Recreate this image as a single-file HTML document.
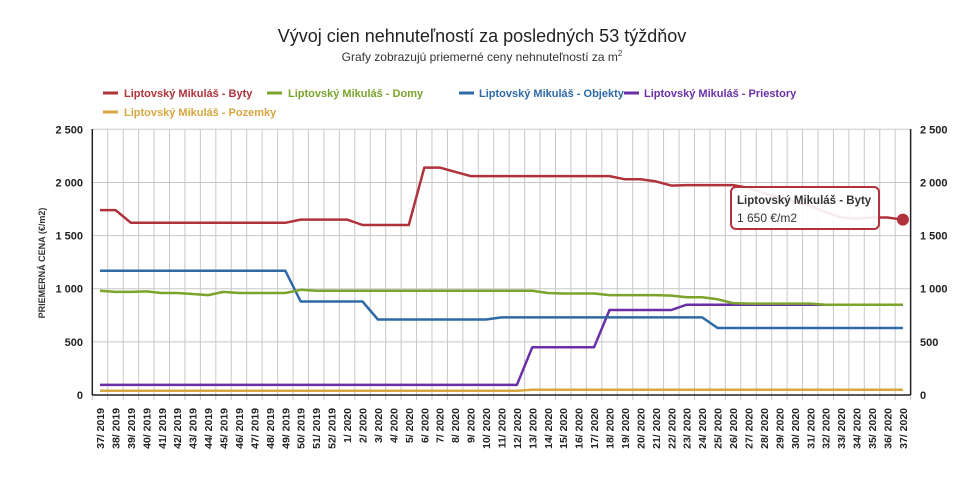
<!DOCTYPE html>
<html><head><meta charset="utf-8"><style>
body{margin:0;background:#fff;width:964px;height:487px;overflow:hidden;font-family:"Liberation Sans",Arial,sans-serif}
</style></head><body>
<svg id="s" width="964" height="487" xmlns="http://www.w3.org/2000/svg" font-family="Liberation Sans, Arial, sans-serif">
<text x="482" y="42" text-anchor="middle" font-size="18" fill="#222">Vývoj cien nehnuteľností za posledných 53 týždňov</text>
<text x="482" y="61" text-anchor="middle" font-size="12" fill="#333">Grafy zobrazujú priemerné ceny nehnuteľností za m<tspan font-size="8" dy="-5">2</tspan></text>
<g font-size="11" font-weight="bold">
<line x1="103" y1="93" x2="118" y2="93" stroke="#b0323a" stroke-width="3"/><text x="124" y="97" fill="#b0323a">Liptovský Mikuláš - Byty</text>
<line x1="267" y1="93" x2="282" y2="93" stroke="#7aa42c" stroke-width="3"/><text x="288" y="97" fill="#7aa42c">Liptovský Mikuláš - Domy</text>
<line x1="459" y1="93" x2="474" y2="93" stroke="#2e6aa6" stroke-width="3"/><text x="479" y="97" fill="#2e6aa6">Liptovský Mikuláš - Objekty</text>
<line x1="624" y1="93" x2="639" y2="93" stroke="#6a2fa6" stroke-width="3"/><text x="644" y="97" fill="#6a2fa6">Liptovský Mikuláš - Priestory</text>
<line x1="103" y1="112" x2="118" y2="112" stroke="#d6a640" stroke-width="3"/><text x="124" y="116" fill="#d6a640">Liptovský Mikuláš - Pozemky</text>
</g>
<text transform="translate(45,263) rotate(-90)" text-anchor="middle" font-size="9" font-weight="bold" fill="#333">PRIEMERNÁ CENA (€/m2)</text>
<g id="g"></g>
</svg>
<script>
var s=document.getElementById('g'),h='';
var L=92.3,W=15.44,Y0=395,K=265.7/2500;
function X(i){return L+W*(i+0.5)}function Y(v){return Y0-v*K}
for(var i=0;i<=53;i++){var x=L+W*i;h+='<line x1="'+x+'" y1="129.3" x2="'+x+'" y2="'+Y0+'" stroke="#c8c8c8" stroke-width="1"/>';h+='<line x1="'+x+'" y1="'+Y0+'" x2="'+x+'" y2="'+(Y0+5)+'" stroke="#c8c8c8"/>';}
for(var v=0;v<=2500;v+=500){var y=Y(v);h+='<line x1="'+L+'" y1="'+y+'" x2="'+(L+W*53)+'" y2="'+y+'" stroke="#c8c8c8"/>';var t=v>=1000?(Math.floor(v/1000)+' '+String(v%1000).padStart(3,'0')):v;h+='<text x="83" y="'+(y+4)+'" text-anchor="end" font-size="11" font-weight="bold" fill="#222">'+t+'</text><text x="920" y="'+(y+4)+'" font-size="11" font-weight="bold" fill="#222">'+t+'</text>';}
h+='<line x1="'+L+'" y1="129" x2="'+L+'" y2="'+Y0+'" stroke="#222" stroke-width="1.5"/><line x1="'+(L+W*53)+'" y1="129" x2="'+(L+W*53)+'" y2="'+Y0+'" stroke="#222" stroke-width="1.5"/><line x1="'+L+'" y1="'+Y0+'" x2="'+(L+W*53)+'" y2="'+Y0+'" stroke="#222" stroke-width="1.5"/>';
for(var i=0;i<53;i++){var lab=i<16?(37+i)+'/ 2019':(i-15)+'/ 2020';var x=X(i)+4;h+='<text transform="translate('+x+',408) rotate(-90)" text-anchor="end" font-size="10.5" font-weight="bold" fill="#222">'+lab+'</text>';}
function rep(a){var r=[];a.forEach(function(p){for(var k=0;k<p[1];k++)r.push(p[0])});return r}
var by=rep([[1740,2],[1620,11],[1650,4],[1600,4],[2140,2],[2100,1],[2060,10],[2030,2],[2010,1],[1970,1],[1975,4],[1950,1],[1900,1],[1860,1],[1820,1],[1780,1],[1720,1],[1670,1],[1660,1],[1670,2],[1650,1]]);
var dm=rep([[980,1],[970,2],[975,1],[960,2],[950,1],[940,1],[970,1],[960,4],[990,1],[980,15],[960,1],[955,3],[940,4],[935,1],[920,2],[900,1],[865,1],[860,5],[850,6]]);
var ob=rep([[1170,13],[880,5],[710,8],[730,14],[630,13]]);
var pr=rep([[95,28],[450,5],[800,5],[850,15]]);
var pz=rep([[40,28],[50,25]]);
function line(a,c){var p=a.map(function(v,i){return X(i).toFixed(1)+','+Y(v).toFixed(1)}).join(' ');return '<polyline points="'+p+'" fill="none" stroke="'+c+'" stroke-width="2.5" stroke-linejoin="round"/>'}
h+=line(pz,'#d6a640')+line(pr,'#6a2fa6')+line(ob,'#2e6aa6')+line(dm,'#7aa42c')+line(by,'#b0323a');
h+='<circle cx="'+X(52)+'" cy="'+Y(1650)+'" r="6" fill="#b0323a"/>';
h+='<rect x="731" y="187" width="148" height="42" rx="5" fill="#fff" fill-opacity="0.9" stroke="#b0323a" stroke-width="2"/><text x="737" y="204" font-size="11.5" font-weight="bold" fill="#333">Liptovský Mikuláš - Byty</text><text x="737" y="222" font-size="12" fill="#333">1 650 €/m2</text>';
s.innerHTML=h;
</script>
</body></html>
